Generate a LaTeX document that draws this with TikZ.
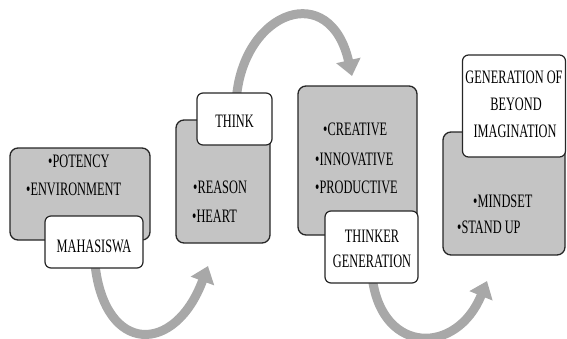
\documentclass[tikz,border=0pt]{standalone}
\usepackage{fontspec}
\usepackage{graphicx}
\setmainfont{Liberation Serif}
\newcommand{\cn}[1]{\scalebox{0.65}[1]{#1}}
\usetikzlibrary{arrows.meta,calc,backgrounds}
\definecolor{boxgray}{RGB}{196,196,196}
\definecolor{arrowgray}{RGB}{168,168,168}
\tikzset{
  graybox/.style={draw=black!85, line width=1.3pt, fill=boxgray, rounded corners=8pt, inner sep=0pt},
  whitebox/.style={draw=black!85, line width=1.2pt, fill=white, rounded corners=6pt, inner sep=0pt},
  txt/.style={font=\rmfamily\fontsize{19}{22}\selectfont, anchor=base west, inner sep=0pt},
  ctxt/.style={font=\rmfamily\fontsize{19}{22}\selectfont, anchor=base, inner sep=0pt},
  flow/.style={draw=arrowgray, line width=9pt, -{Triangle[width=24pt,length=16pt]}}
}
\begin{document}
\begin{tikzpicture}[x=1pt,y=-1pt]
\useasboundingbox (0,0) rectangle (567,338);
% boxes
\node[graybox, minimum width=140pt, minimum height=92pt] (b1) at (80,194) {};
\node[whitebox, minimum width=98pt, minimum height=52pt] (w1) at (94,242) {};
\node[graybox, minimum width=94pt, minimum height=123pt] (b2) at (223,181.5) {};
\node[whitebox, minimum width=75pt, minimum height=52pt] (w2) at (234.5,119) {};
\node[graybox, minimum width=119pt, minimum height=149pt] (b3) at (357.5,160.5) {};
\node[whitebox, minimum width=93pt, minimum height=72pt] (w3) at (371.5,247) {};
\node[graybox, minimum width=122pt, minimum height=123pt] (b4) at (504,193.5) {};
\node[whitebox, minimum width=103pt, minimum height=102pt] (w4) at (514,106) {};
% texts
\node[txt] (t1a) at (48,167) {\cn{•POTENCY}};
\node[txt] (t1b) at (26,195) {\cn{•ENVIRONMENT}};
\node[ctxt] (t1c) at (94,252) {\cn{MAHASISWA}};
\node[ctxt] (t2a) at (234.5,127) {\cn{THINK}};
\node[txt] (t2b) at (193,193) {\cn{•REASON}};
\node[txt] (t2c) at (192,222) {\cn{•HEART}};
\node[txt] (t3a) at (323,135) {\cn{•CREATIVE}};
\node[txt] (t3b) at (315,165) {\cn{•INNOVATIVE}};
\node[txt] (t3c) at (315,193) {\cn{•PRODUCTIVE}};
\node[ctxt] (t3d) at (372,242) {\cn{THINKER}};
\node[ctxt] (t3e) at (372,267) {\cn{GENERATION}};
\node[ctxt] (t4a) at (514,83) {\cn{GENERATION OF}};
\node[ctxt] (t4b) at (516,110) {\cn{BEYOND}};
\node[ctxt] (t4c) at (515,137) {\cn{IMAGINATION}};
\node[txt] (t4d) at (473,207) {\cn{•MINDSET}};
\node[txt] (t4e) at (457,233) {\cn{•STAND UP}};
% arrows
\coordinate (e1) at (208,266);
\coordinate (e2) at (352,76);
\coordinate (e3) at (487,281);
\begin{scope}[on background layer]
\draw[flow] ($(w1.south)+(1,-4)$) .. controls (105,355) and (175,355) .. (e1);
\draw[flow] ($(w2.north)+(2,4)$) .. controls (245,10) and (330,-20) .. (e2);
\draw[flow] ($(w3.south)+(1,-4)$) .. controls (383,355) and (457,355) .. (e3);
\end{scope}
\end{tikzpicture}
\end{document}
